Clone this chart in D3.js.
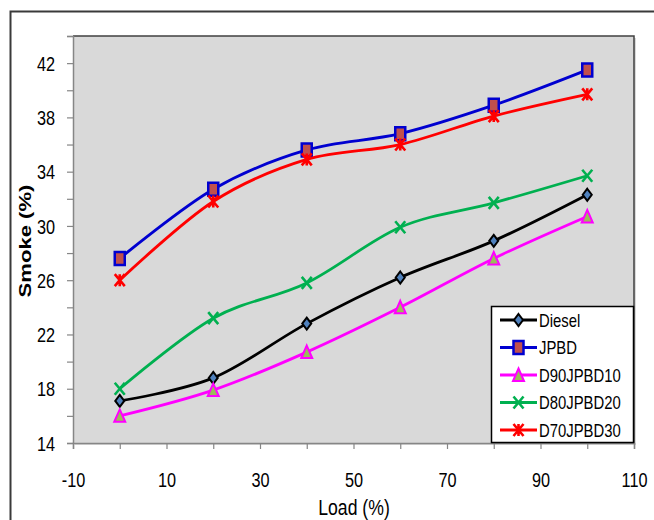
<!DOCTYPE html>
<html><head><meta charset="utf-8">
<script src="https://cdn.jsdelivr.net/npm/d3@7"></script>
<style>
html,body{margin:0;padding:0;background:#fff;}
svg{display:block;}
</style></head>
<body>
<svg id="chart" width="654" height="520"></svg>
<script>
const loads = [0, 20, 40, 60, 80, 100];
const diesel    = [17.1, 18.8, 22.8, 26.2, 28.9, 32.3];
const jpbd      = [27.6, 32.7, 35.6, 36.8, 38.9, 41.5];
const d90jpbd10 = [16.0, 17.9, 20.7, 24.0, 27.6, 30.7];
const d80jpbd20 = [18.0, 23.2, 25.8, 29.9, 31.7, 33.7];
const d70jpbd30 = [26.0, 31.8, 34.9, 36.0, 38.1, 39.7];
const seriesNames = ["Diesel", "JPBD", "D90JPBD10", "D80JPBD20", "D70JPBD30"];
const xTickLabels = [-10, 10, 30, 50, 70, 90, 110];
const yTickLabels = [14, 18, 22, 26, 30, 34, 38, 42];

const seriesValues = [diesel, jpbd, d90jpbd10, d80jpbd20, d70jpbd30];
const styles = [
  {stroke:"#000000", marker:"diamond", mstroke:"#000000", mfill:"#4f81bd"},
  {stroke:"#0000d0", marker:"square",  mstroke:"#0000d0", mfill:"#c0504d"},
  {stroke:"#ff00ff", marker:"triangle",mstroke:"#ff00ff", mfill:"#9bbb59"},
  {stroke:"#00b050", marker:"x",       mstroke:"#00b050", mfill:"none"},
  {stroke:"#ff0000", marker:"star",    mstroke:"#ff0000", mfill:"none"}
];

const svg = d3.select("#chart");
const L = 73, R = 634, T = 36, B = 443;
const x = d3.scaleLinear().domain([-10, 110]).range([L, R]);
const y = d3.scaleLinear().domain([14, 44]).range([B, T]);
const FONT = "'Liberation Sans',Arial,sans-serif";

// outer frame
svg.append("path").attr("d", `M10.5,520 L10.5,11.5 L654,11.5`)
  .attr("fill","none").attr("stroke","#3a3a3a").attr("stroke-width",2);

// plot area
svg.append("rect").attr("x",L+2).attr("y",T+2).attr("width",R-L).attr("height",B-T).attr("fill","#bfbfbf").attr("opacity",0.6);
svg.append("rect").attr("x",L).attr("y",T).attr("width",R-L).attr("height",B-T).attr("fill","#d9d9d9");
svg.append("path").attr("d",`M${L},${T} L${R},${T} L${R},${B}`).attr("fill","none").attr("stroke","#404040").attr("stroke-width",1.5);

// axes
const yAxis = d3.axisLeft(y).tickValues(d3.range(14, 45, 2)).tickSize(6)
  .tickFormat(d => yTickLabels.includes(d) ? d : "");
const gy = svg.append("g").attr("transform",`translate(${L},0)`).call(yAxis);
const xAxis = d3.axisBottom(x).tickValues(d3.range(-10, 111, 10)).tickSize(6)
  .tickFormat(d => xTickLabels.includes(d) ? d : "");
const gx = svg.append("g").attr("transform",`translate(0,${B})`).call(xAxis);
[gx, gy].forEach(g => {
  g.select(".domain").attr("stroke","#868686").attr("stroke-width",1.5);
  g.selectAll(".tick line").attr("stroke","#868686").attr("stroke-width",1.2);
  g.selectAll(".tick text").attr("font-family",FONT).attr("font-size",18.5).attr("fill","#000");
});
gy.selectAll(".tick text").attr("x",0).attr("dy","0.36em").attr("transform",`translate(-18,0) scale(0.88,1.08)`);
gx.selectAll(".tick text").attr("y",0).attr("dy","0.36em").attr("transform",`translate(0,37) scale(0.88,1.08)`);

// titles
svg.append("text").attr("transform","translate(354,515) scale(0.86,1.08)").attr("text-anchor","middle")
  .attr("font-family",FONT).attr("font-size",20.5).attr("fill","#000").text("Load (%)");
svg.append("text").attr("transform","translate(31,241) rotate(-90) scale(1.3,1)")
  .attr("text-anchor","middle").attr("font-family",FONT)
  .attr("font-weight","bold").attr("font-size",17).attr("fill","#000").text("Smoke (%)");

// markers
function markerPath(type){
  switch(type){
    case "diamond": return "M0,-6 L4.5,0 L0,6 L-4.5,0 Z";
    case "square": return "M-5,-6.5 L5,-6.5 L5,6.5 L-5,6.5 Z";
    case "triangle": return "M0,-6.5 L5.5,6 L-5.5,6 Z";
    case "x": return "M-5,-6 L5,6 M-5,6 L5,-6";
    case "star": return "M-5,-6 L5,6 M-5,6 L5,-6 M0,-6 L0,6";
  }
}
function drawMarker(g, type, st, cx, cy){
  g.append("path").attr("d", markerPath(type)).attr("transform",`translate(${cx},${cy})`)
    .attr("fill", st.mfill).attr("stroke", st.mstroke)
    .attr("stroke-width", type==="square"?2.5:(type==="x"||type==="star")?2.6:2);
}

const line = d3.line().x(d => x(d[0])).y(d => y(d[1])).curve(d3.curveCardinal.tension(0));
seriesValues.forEach((vals, i) => {
  const st = styles[i];
  const pts = loads.map((l, j) => [l, vals[j]]);
  const g = svg.append("g");
  g.append("path").attr("d", line(pts)).attr("fill","none").attr("stroke",st.stroke).attr("stroke-width",2.8);
  pts.forEach(p => drawMarker(g, st.marker, st, x(p[0]), y(p[1])));
});

// legend
const lg = svg.append("g");
lg.append("rect").attr("x",491.5).attr("y",306.5).attr("width",142).attr("height",136)
  .attr("fill","#fff").attr("stroke","#000").attr("stroke-width",1.5);
seriesNames.forEach((name, i) => {
  const st = styles[i];
  const cy = 320 + i*27.5;
  lg.append("line").attr("x1",500).attr("x2",537).attr("y1",cy).attr("y2",cy)
    .attr("stroke",st.stroke).attr("stroke-width",2.8);
  drawMarker(lg, st.marker, st, 518.5, cy);
  lg.append("text").attr("transform",`translate(539,${cy}) scale(0.85,1.1)`).attr("dy","0.36em")
    .attr("font-family",FONT).attr("font-size",17.5).attr("fill","#000").text(name);
});
</script>
</body></html>
